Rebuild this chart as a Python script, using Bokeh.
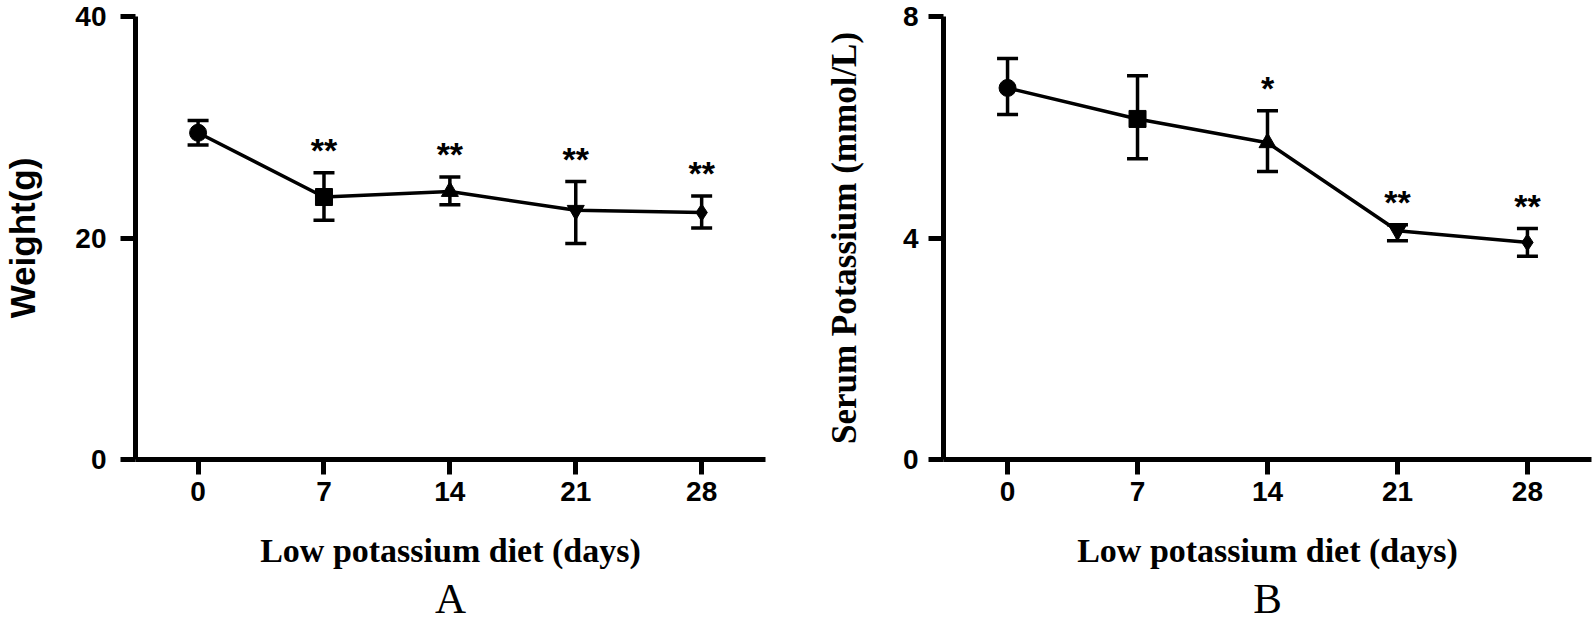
from bokeh.plotting import figure
from bokeh.models import ColumnDataSource, Whisker, TeeHead, FixedTicker, Title, Range1d
from bokeh.layouts import row
from bokeh.embed import file_html
from bokeh.resources import INLINE
from bokeh.core.properties import value

# ---- data ----
days = [0, 7, 14, 21, 28]
day_labels = ["0", "7", "14", "21", "28"]
markers = ["circle", "square", "triangle", "inverted_triangle", "diamond"]

weight_mean = [29.5, 23.7, 24.2, 22.5, 22.3]
weight_upper = [30.6, 25.9, 25.5, 25.1, 23.8]
weight_lower = [28.4, 21.6, 23.0, 19.5, 20.9]
weight_sig = ["", "**", "**", "**", "**"]
weight_yticks = [0, 20, 40]

k_mean = [6.71, 6.15, 5.72, 4.13, 3.92]
k_upper = [7.24, 6.93, 6.30, 4.24, 4.17]
k_lower = [6.23, 5.43, 5.20, 3.95, 3.67]
k_sig = ["", "", "*", "**", "**"]
k_yticks = [0, 4, 8]

SANS = "Liberation Sans"
SERIF = "Liberation Serif"

HEIGHT, TOP, BOTTOM = 628, 16, 169


def make_panel(mean, upper, lower, sig, yticks, ymax, ylabel, ylabel_font,
               letter, width, xr, left, right, ylabel_standoff, ylabel_size,
               tick_standoff):
    src = ColumnDataSource(dict(x=days, y=mean, upper=upper, lower=lower,
                                sig=sig, marker=markers))
    p = figure(width=width, height=HEIGHT, output_backend="svg", toolbar_location=None,
               title=None,
               x_range=Range1d(*xr), y_range=Range1d(0, ymax),
               min_border_left=left, min_border_right=right,
               min_border_top=TOP, min_border_bottom=BOTTOM)
    p.grid.visible = False
    p.outline_line_color = None
    p.background_fill_color = "white"
    p.border_fill_color = "white"

    p.line("x", "y", source=src, line_width=3.5, line_color="black")
    wh = Whisker(source=src, base="x", upper="upper", lower="lower",
                 line_width=3.5, line_color="black",
                 upper_head=TeeHead(size=21, line_width=3.5, line_color="black"),
                 lower_head=TeeHead(size=21, line_width=3.5, line_color="black"))
    p.add_layout(wh)
    p.scatter("x", "y", source=src, marker="marker", size=17,
              fill_color="black", line_color="black")
    p.text(x="x", y="upper", text="sig", source=src, text_align="center",
           text_baseline="alphabetic", y_offset=-23,
           text_font=value(SANS), text_font_style="bold",
           text_font_size="34px", text_color="black")

    for ax in (p.xaxis[0], p.yaxis[0]):
        ax.axis_line_width = 5
        ax.axis_line_color = "black"
        ax.major_tick_line_width = 5
        ax.major_tick_line_color = "black"
        ax.major_tick_out = 15
        ax.major_tick_in = 0
        ax.minor_tick_line_color = None
        ax.major_label_text_font = SANS
        ax.major_label_text_font_style = "bold"
        ax.major_label_text_font_size = "28px"
        ax.major_label_text_color = "black"

    p.xaxis.ticker = FixedTicker(ticks=days)
    p.xaxis.major_label_overrides = {d: l for d, l in zip(days, day_labels)}
    p.xaxis.major_label_standoff = 7
    p.xaxis.axis_label = "Low potassium diet (days)"
    p.xaxis.axis_label_text_font = SERIF
    p.xaxis.axis_label_text_font_style = "bold"
    p.xaxis.axis_label_text_font_size = "34px"
    p.xaxis.axis_label_text_color = "black"
    p.xaxis.axis_label_standoff = 28

    p.yaxis.ticker = FixedTicker(ticks=yticks)
    p.yaxis.major_label_standoff = tick_standoff
    p.yaxis.axis_label = ylabel
    p.yaxis.axis_label_text_font = ylabel_font
    p.yaxis.axis_label_text_font_style = "bold"
    p.yaxis.axis_label_text_font_size = ylabel_size
    p.yaxis.axis_label_text_color = "black"
    p.yaxis.axis_label_standoff = ylabel_standoff

    t = Title(text=letter, align="center", text_font=SERIF,
              text_font_size="43px", text_font_style="normal",
              text_color="black", standoff=2)
    p.add_layout(t, "below")
    return p


pA = make_panel(weight_mean, weight_upper, weight_lower, weight_sig, weight_yticks, 40,
                "Weight(g)", SANS, "A", 808, (-3.48, 31.55), 131, 43, 30, "35px", 14)
pB = make_panel(k_mean, k_upper, k_lower, k_sig, k_yticks, 8,
                "Serum Potassium (mmol/L)", SERIF, "B", 784, (-3.45, 31.45), 135, 1,
                36, "35px", 10)

layout = row(pA, pB)
open("out.html", "w").write(file_html(layout, INLINE))
